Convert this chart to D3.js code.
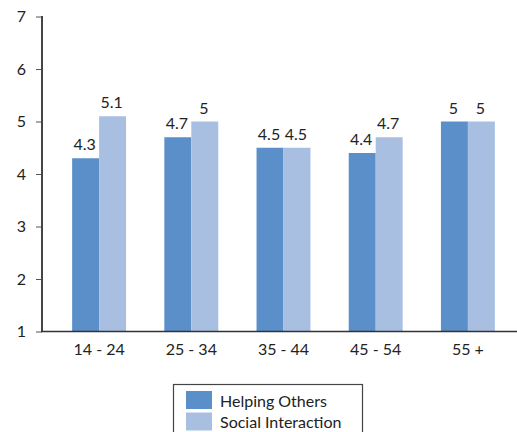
<!DOCTYPE html>
<html><head><meta charset="utf-8">
<script src="https://cdn.jsdelivr.net/npm/d3@7"></script>
<style>body{margin:0;background:#fff}svg{display:block}text{font-family:Lato,"Open Sans",sans-serif;fill:#222}</style>
</head><body><svg id="c" width="517" height="432"></svg>
<script>
const categories = ["14 - 24","25 - 34","35 - 44","45 - 54","55 +"];
const seriesNames = ["Helping Others","Social Interaction"];
const helping = [4.3,4.7,4.5,4.4,5];
const social = [5.1,5,4.5,4.7,5];
const yTicks = [1,2,3,4,5,6,7];
const colors = ["#5b8fc9","#a9bfe1"];

const svg = d3.select("#c");
const y = d3.scaleLinear().domain([1,7]).range([331.5,16.5]);
const x0 = d3.scaleBand().domain(categories).range([53,514]).paddingInner(0.415).paddingOuter(0.2075);
const x1 = d3.scaleBand().domain(seriesNames).range([0,x0.bandwidth()]);
const data = categories.map((c,i)=>({cat:c, vals:[helping[i],social[i]]}));

const g = svg.selectAll("g.grp").data(data).join("g").attr("transform",d=>`translate(${x0(d.cat)},0)`);
g.selectAll("rect").data(d=>d.vals.map((v,j)=>({v,s:seriesNames[j],j}))).join("rect")
  .attr("x",d=>x1(d.s)).attr("width",x1.bandwidth())
  .attr("y",d=>y(d.v)).attr("height",d=>y(1)-y(d.v)).attr("fill",d=>colors[d.j]);
g.selectAll("text.val").data(d=>d.vals.map((v,j)=>({v,s:seriesNames[j]}))).join("text")
  .attr("class","val").attr("x",d=>x1(d.s)+x1.bandwidth()/2-1).attr("y",d=>y(d.v)-8)
  .attr("text-anchor","middle").attr("font-size",16).text(d=>d.v);

// y axis
const ya = svg.append("g").attr("transform","translate(42,0)")
  .call(d3.axisLeft(y).tickValues(yTicks).tickSize(6).tickPadding(10).tickFormat(d3.format("d")));
ya.select(".domain").remove();
ya.selectAll(".tick line").attr("stroke","#555");
ya.selectAll(".tick text").attr("font-size",16).attr("fill","#222").style("font-family","Lato,sans-serif");
svg.append("line").attr("x1",42).attr("x2",42).attr("y1",y(7)-0.5).attr("y2",y(1)).attr("stroke","#444").attr("stroke-width",2);

// x axis
const xa = svg.append("g").attr("transform",`translate(0,${y(1)})`)
  .call(d3.axisBottom(x0).tickSize(0).tickPadding(12));
xa.select(".domain").remove();
xa.selectAll(".tick text").attr("font-size",16).attr("fill","#222").style("font-family","Lato,sans-serif");
svg.append("line").attr("x1",41).attr("x2",517).attr("y1",y(1)).attr("y2",y(1)).attr("stroke","#333").attr("stroke-width",1.5);

// legend
const lg = svg.append("g");
lg.append("rect").attr("x",173.5).attr("y",384.5).attr("width",189).attr("height",60).attr("fill","none").attr("stroke","#444").attr("stroke-width",1.2);
seriesNames.forEach((s,i)=>{
  lg.append("rect").attr("x",186).attr("y",391+i*21.5).attr("width",26).attr("height",18).attr("fill",colors[i]);
  lg.append("text").attr("x",220).attr("y",406.5+i*21.5).attr("font-size",16).text(s);
});
</script></body></html>
